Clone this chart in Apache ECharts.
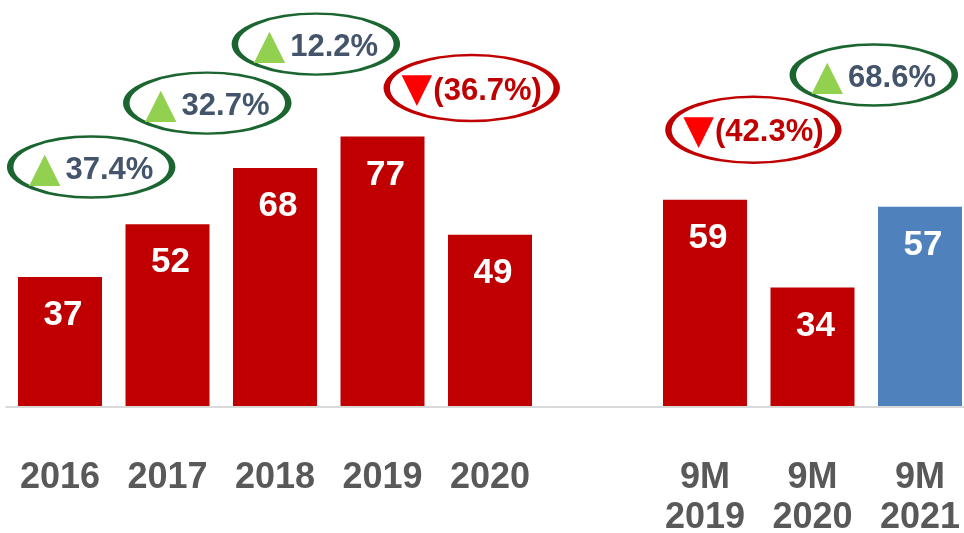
<!DOCTYPE html>
<html>
<head>
<meta charset="utf-8">
<script src="https://cdn.jsdelivr.net/npm/echarts@6/dist/echarts.min.js"></script>
<style>
  html, body { margin: 0; padding: 0; background: #fff; }
  #chart { width: 964px; height: 533px; }
</style>
</head>
<body>
<div id="chart"></div>
<script>
// categories, with one empty slot between the full years and the 9M periods
var categories = ['2016', '2017', '2018', '2019', '2020', '', '9M\n2019', '9M\n2020', '9M\n2021'];
var values = [37, 52, 68, 77, 49, null, 59, 34, 57];

// year-on-year changes shown in the ellipses
var changeLabels = ['37.4%', '32.7%', '12.2%', '36.7%', '42.3%', '68.6%'];
var changeUp = [true, true, true, false, false, true];

// where each ellipse sits (category index, axis units)
var changeAtX = [0.29, 1.37, 2.38, 3.83, 6.45, 7.57];
var changeAtY = [68.3, 86.5, 103.3, 90.8, 78.9, 94.5];

var FONT = '"Liberation Sans", Arial, sans-serif';
var RED = '#c00000';
var BLUE = '#4f81bd';

var barData = values.map(function (v, i) {
  if (v == null) return null;
  return {
    value: v,
    itemStyle: { color: i === 8 ? BLUE : RED }
  };
});

var ellipsePath = 'path://M0,50 C0,22.4 44.8,0 100,0 C155.2,0 200,22.4 200,50 C200,77.6 155.2,100 100,100 C44.8,100 0,77.6 0,50 Z';

var changeData = changeLabels.map(function (t, i) {
  var up = changeUp[i];
  return {
    value: [changeAtX[i], changeAtY[i]],
    name: t,
    up: up,
    symbolSize: up ? [162, 61] : [170, 66],
    itemStyle: { borderColor: up ? '#1b6630' : RED }
  };
});

var myChart = echarts.init(document.getElementById('chart'));

var option = {
  animation: false,
  grid: { left: 6.25, width: 967.5, top: 3, bottom: 126, outerBoundsMode: 'none', containLabel: false },
  xAxis: [{
    type: 'category',
    data: categories,
    z: 10,
    axisLine: { show: true, lineStyle: { color: '#d9d9d9', width: 2 } },
    axisTick: { show: false },
    axisLabel: {
      interval: 0,
      margin: 51,
      color: '#595959',
      fontFamily: FONT,
      fontWeight: 'bold',
      fontSize: 36,
      lineHeight: 40
    }
  }, {
    type: 'value',
    min: -0.5,
    max: 8.5,
    show: false
  }],
  yAxis: {
    type: 'value',
    min: 0,
    max: 115,
    show: false,
    splitLine: { show: false }
  },
  series: [{
    type: 'bar',
    data: barData,
    barWidth: 84,
    label: {
      show: true,
      position: 'insideTop',
      distance: 21,
      offset: [3, 0],
      color: '#fff',
      fontFamily: FONT,
      fontWeight: 'bold',
      fontSize: 35
    }
  }, {
    type: 'scatter',
    xAxisIndex: 1,
    clip: false,
    z: 5,
    symbol: ellipsePath,
    data: changeData,
    itemStyle: { color: 'rgba(0,0,0,0)', borderWidth: 4, opacity: 1 },
    label: {
      show: true,
      position: 'inside',
      offset: [0, 3],
      formatter: function (p) {
        if (p.data.up) return '{u|▲}{g|' + p.name + '}';
        return '{d|▼}{r|(' + p.name + ')}';
      },
      rich: {
        u: { color: '#92d050', fontSize: 41, fontFamily: '"DejaVu Sans", sans-serif', padding: [0, 5, 0, 0] },
        g: { color: '#44546a', fontSize: 31, fontWeight: 'bold', fontFamily: FONT },
        d: { color: '#ff0000', fontSize: 40, fontFamily: '"DejaVu Sans", sans-serif', padding: [0, 1, 0, 0] },
        r: { color: RED, fontSize: 31, fontWeight: 'bold', fontFamily: FONT }
      }
    }
  }]
};

myChart.setOption(option);
</script>
</body>
</html>
